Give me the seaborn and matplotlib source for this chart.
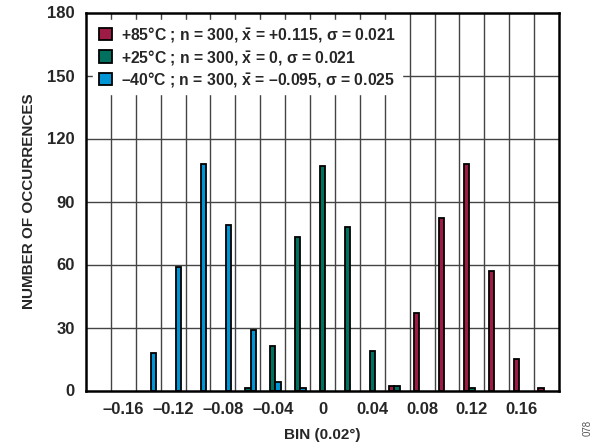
import numpy as np
import pandas as pd
import matplotlib
matplotlib.use('Agg')
import matplotlib.pyplot as plt
import seaborn as sns

# bin centres (degrees) and occurrence counts per temperature
bins_85 = [0.06, 0.08, 0.10, 0.12, 0.14, 0.16, 0.18]
counts_85 = [2, 37, 82, 108, 57, 15, 1]
bins_25 = [-0.06, -0.04, -0.02, 0.00, 0.02, 0.04, 0.06, 0.12]
counts_25 = [1, 21, 73, 107, 78, 19, 2, 1]
bins_m40 = [-0.14, -0.12, -0.10, -0.08, -0.06, -0.04, -0.02]
counts_m40 = [18, 59, 108, 79, 29, 4, 1]

labels = [r'+85°C ; n = 300, $\bar{\mathbf{x}}$ = +0.115, σ = 0.021',
          r'+25°C ; n = 300, $\bar{\mathbf{x}}$ = 0, σ = 0.021',
          r'–40°C ; n = 300, $\bar{\mathbf{x}}$ = –0.095, σ = 0.025']
colors = ['#9E1B45', '#00705F', '#0096D6']

x_ticks = [-0.16, -0.12, -0.08, -0.04, 0.0, 0.04, 0.08, 0.12, 0.16]
y_ticks = [0, 30, 60, 90, 120, 150, 180]

df = pd.concat([
    pd.DataFrame({'bin': bins_85, 'count': counts_85, 'temp': labels[0]}),
    pd.DataFrame({'bin': bins_25, 'count': counts_25, 'temp': labels[1]}),
    pd.DataFrame({'bin': bins_m40, 'count': counts_m40, 'temp': labels[2]}),
])
df['bin'] = df['bin'].round(2)

sns.set_style('white')
plt.rcParams['font.family'] = ['Liberation Sans', 'DejaVu Sans']
plt.rcParams['font.weight'] = 'bold'
plt.rcParams['mathtext.fontset'] = 'custom'
plt.rcParams['mathtext.rm'] = 'Liberation Sans:bold'
plt.rcParams['mathtext.bf'] = 'Liberation Sans:bold'

fig = plt.figure(figsize=(6.05, 4.46), dpi=100)
ax = fig.add_axes([86 / 605, 1 - 390.5 / 446, (559 - 86) / 605, (390.5 - 12.5) / 446])

sns.barplot(data=df, x='bin', y='count', hue='temp', hue_order=labels,
            palette=colors, saturation=1, native_scale=True, width=0.65,
            dodge=True, errorbar=None, edgecolor='black', linewidth=1.3,
            ax=ax, zorder=3)

# grid: vertical lines at bin edges, horizontal at y ticks
for e in np.arange(-0.17, 0.18, 0.02):
    ax.axvline(e, color='#444444', lw=1.0, zorder=1)
for y in y_ticks[1:-1]:
    ax.axhline(y, color='#444444', lw=1.0, zorder=1)

ax.set_xlim(-0.19, 0.19)
ax.set_ylim(0, 180)
ax.set_xticks(x_ticks)
ax.set_xticklabels([('–' + f'{abs(t):g}') if t < 0 else f'{t:g}' for t in x_ticks])
ax.set_yticks(y_ticks)
ax.tick_params(axis='both', length=0, labelsize=12, pad=8)
for lab in ax.get_xticklabels() + ax.get_yticklabels():
    lab.set_fontweight('bold')

for s in ax.spines.values():
    s.set_color('black')
    s.set_linewidth(1.8)
    s.set_zorder(5)

ax.set_xlabel('BIN (0.02°)', fontsize=11, fontweight='bold', labelpad=8)
ax.set_ylabel('NUMBER OF OCCURRENCES', fontsize=11, fontweight='bold', labelpad=8)

handles, labs = ax.get_legend_handles_labels()
leg = ax.legend(handles, labs, loc='upper left', fontsize=11.3, frameon=True,
                framealpha=1, edgecolor='white', fancybox=False,
                handlelength=0.85, handleheight=0.85, handletextpad=0.6,
                labelspacing=0.22, borderpad=0.35, borderaxespad=0.45)
leg.set_zorder(6)
for h in leg.legend_handles:
    h.set_edgecolor('black')
    h.set_linewidth(1.3)
for t in leg.get_texts():
    t.set_fontweight('bold')

fig.text(588 / 605, 1 - 428 / 446, '078', rotation=90, fontsize=7,
         color='#555555', ha='center', va='center', fontweight='normal')

fig.savefig('out.png', dpi=100)
